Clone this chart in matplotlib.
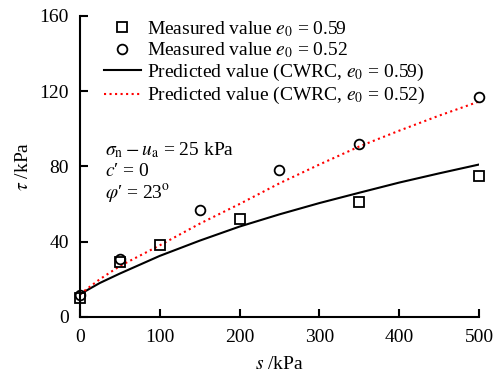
import matplotlib
matplotlib.use('Agg')
import matplotlib.pyplot as plt

plt.rcParams['font.family'] = ['Liberation Serif', 'DejaVu Serif']
plt.rcParams['mathtext.fontset'] = 'stix'

# measured data
s_sq = [0, 50, 100, 200, 350, 500]
tau_sq = [10, 29, 38, 52, 61, 75]
s_ci = [0, 50, 150, 250, 350, 500]
tau_ci = [11.5, 31, 57, 78, 92, 117]

# predicted curves
s_pred = [0, 25, 50, 100, 150, 200, 250, 300, 350, 400, 450, 500]
tau_pred_059 = [12, 18, 23, 32.4, 40.5, 48, 54.5, 60.5, 66, 71.4, 76.3, 81]
tau_pred_052 = [12, 20, 27, 38, 49.5, 60, 71, 81, 90.6, 99, 107, 114.5]

fs = 14

fig = plt.figure(figsize=(4.96, 3.79), dpi=100)
ax = fig.add_axes([0.161, 0.164, 0.805, 0.794])

ax.plot(s_sq, tau_sq, 's', mfc='none', mec='black', mew=1.3, ms=7,
        label=r'Measured value $e_0$ = 0.59', clip_on=False, zorder=3)
ax.plot(s_ci, tau_ci, 'o', mfc='none', mec='black', mew=1.3, ms=7,
        label=r'Measured value $e_0$ = 0.52', clip_on=False, zorder=3)
ax.plot(s_pred, tau_pred_059, '-', color='black', lw=1.5,
        label=r'Predicted value (CWRC, $e_0$ = 0.59)')
ax.plot(s_pred, tau_pred_052, ':', color='red', lw=1.5,
        label=r'Predicted value (CWRC, $e_0$ = 0.52)')

ax.set_xlim(0, 500)
ax.set_ylim(0, 160)
ax.set_xticks([0, 100, 200, 300, 400, 500])
ax.set_yticks([0, 40, 80, 120, 160])
for side in ['top', 'right']:
    ax.spines[side].set_visible(False)
for side in ['left', 'bottom']:
    ax.spines[side].set_linewidth(1.5)
ax.tick_params(axis='x', direction='in', length=6, width=1.5, labelsize=fs, pad=9)
ax.tick_params(axis='y', direction='in', length=6, width=1.5, labelsize=fs, pad=8)

ax.set_xlabel(r'$s$ /kPa', fontsize=fs, labelpad=7)
ax.set_ylabel(r'$\tau$ /kPa', fontsize=fs, labelpad=5)

ax.legend(loc='upper left', bbox_to_anchor=(0.06, 0.99), frameon=False,
          fontsize=fs, handlelength=1.9, handletextpad=0.3,
          labelspacing=0.1, borderaxespad=0, borderpad=0)

ax.text(0.063, 0.555, r'$\sigma_{\rm n} - u_{\rm a}$ = 25 kPa', transform=ax.transAxes,
        fontsize=fs, va='center')
ax.text(0.063, 0.482, r'$c$′ = 0', transform=ax.transAxes, fontsize=fs, va='center')
ax.text(0.063, 0.409, r'$\varphi$′ = 23$^{\rm o}$', transform=ax.transAxes, fontsize=fs, va='center')

fig.savefig('out.png', dpi=100)
